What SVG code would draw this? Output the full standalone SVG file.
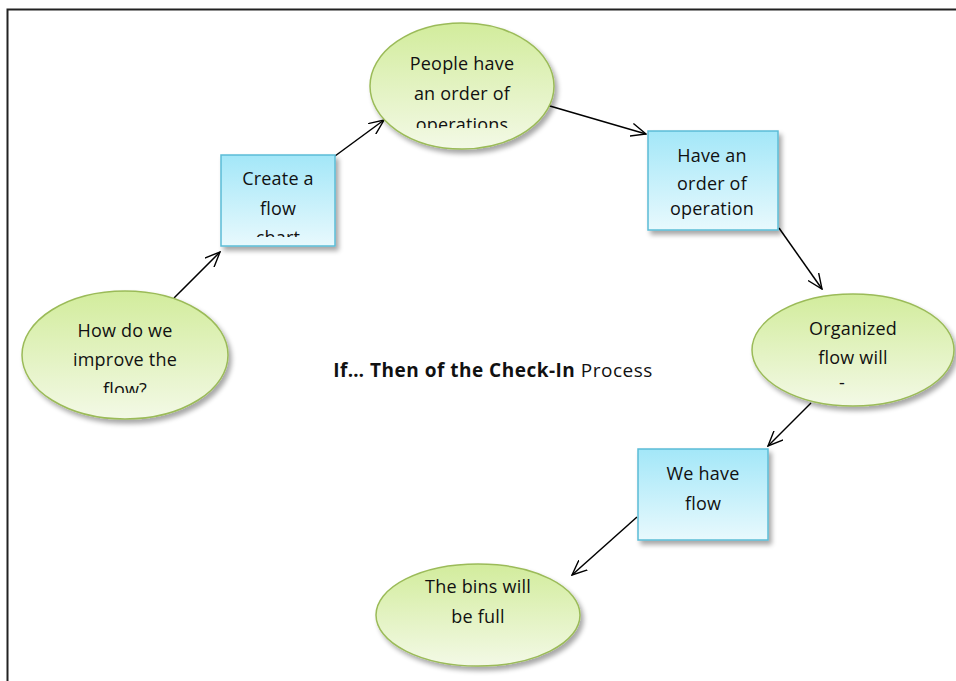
<svg xmlns="http://www.w3.org/2000/svg" width="956" height="681" viewBox="0 0 956 681">
  <style>
    .lbl { font-family: "Open Sans", "Liberation Sans", sans-serif; font-size: 18px; letter-spacing: 0.2px; fill: #111; text-anchor: middle; }
    .oval { fill: url(#gGreen); stroke: #9bbb59; stroke-width: 1.5; }
    .box { fill: url(#gBlue); stroke: #5bbcd6; stroke-width: 1.5; }
    .conn { stroke: #000; stroke-width: 1.5; fill: none; marker-end: url(#arrow); }
    .title { font-family: "Open Sans", "Liberation Sans", sans-serif; font-size: 19px; letter-spacing: 0.5px; fill: #111; }
  </style>
  <defs>
    <linearGradient id="gGreen" x1="0" y1="0" x2="0" y2="1">
      <stop offset="0" stop-color="#d2ec9c"/>
      <stop offset="1" stop-color="#f3f9e6"/>
    </linearGradient>
    <linearGradient id="gBlue" x1="0" y1="0" x2="0" y2="1">
      <stop offset="0" stop-color="#a3e7f8"/>
      <stop offset="1" stop-color="#e8f9fd"/>
    </linearGradient>
    <filter id="shadow" x="-20%" y="-20%" width="150%" height="150%">
      <feGaussianBlur in="SourceAlpha" stdDeviation="2.5"/>
      <feOffset dx="3" dy="4" result="b"/>
      <feComponentTransfer><feFuncA type="linear" slope="0.35"/></feComponentTransfer>
      <feMerge><feMergeNode/><feMergeNode in="SourceGraphic"/></feMerge>
    </filter>
    <marker id="arrow" viewBox="0 0 16 14" refX="15" refY="7" markerWidth="16" markerHeight="14" markerUnits="userSpaceOnUse" orient="auto">
      <path d="M0,0.5 L15,7 L0,13.5" fill="none" stroke="#000" stroke-width="1.4"/>
    </marker>
    <clipPath id="c1"><rect x="40" y="300" width="170" height="93"/></clipPath>
    <clipPath id="c2"><rect x="222" y="156" width="112" height="81"/></clipPath>
    <clipPath id="c3"><rect x="380" y="30" width="170" height="98"/></clipPath>
    <clipPath id="c4"><rect x="770" y="300" width="170" height="87"/></clipPath>
  </defs>

  <!-- page frame -->
  <path d="M7.5,681 L7.5,9.5 L956,9.5" fill="none" stroke="#222" stroke-width="2"/>

  <!-- connectors -->
  <g id="connectors">
    <line class="conn" x1="174" y1="298" x2="220" y2="252"/>
    <line class="conn" x1="335" y1="156" x2="384" y2="120"/>
    <line class="conn" x1="519" y1="97" x2="646" y2="134"/>
    <line class="conn" x1="779" y1="228" x2="822" y2="289"/>
    <line class="conn" x1="811" y1="403" x2="768" y2="446"/>
    <line class="conn" x1="637" y1="517" x2="572" y2="575"/>
  </g>

  <g id="n-improve">
    <ellipse class="oval" cx="125" cy="355" rx="103" ry="64" filter="url(#shadow)"/>
    <g clip-path="url(#c1)">
      <text class="lbl" x="125" y="337">How do we</text>
      <text class="lbl" x="125" y="366">improve the</text>
      <text class="lbl" x="125" y="396">flow?</text>
    </g>
  </g>

  <g id="n-flowchart">
    <rect class="box" x="221" y="155" width="114" height="91" filter="url(#shadow)"/>
    <g clip-path="url(#c2)">
      <text class="lbl" x="278" y="185">Create a</text>
      <text class="lbl" x="278" y="215">flow</text>
      <text class="lbl" x="278" y="244">chart</text>
    </g>
  </g>

  <g id="n-people">
    <ellipse class="oval" cx="462" cy="86" rx="92" ry="63" filter="url(#shadow)"/>
    <g clip-path="url(#c3)">
      <text class="lbl" x="462" y="70">People have</text>
      <text class="lbl" x="462" y="100">an order of</text>
      <text class="lbl" x="462" y="131">operations</text>
    </g>
  </g>

  <g id="n-order">
    <rect class="box" x="648" y="131" width="130" height="99" filter="url(#shadow)"/>
    <text class="lbl" x="712" y="162">Have an</text>
    <text class="lbl" x="712" y="190">order of</text>
    <text class="lbl" x="712" y="215">operation</text>
  </g>

  <g id="n-organized">
    <ellipse class="oval" cx="853" cy="350" rx="101" ry="56" filter="url(#shadow)"/>
    <g clip-path="url(#c4)">
      <text class="lbl" x="853" y="335">Organized</text>
      <text class="lbl" x="853" y="364">flow will</text>
      <text class="lbl" x="842" y="389">-</text>
    </g>
  </g>

  <g id="n-haveflow">
    <rect class="box" x="638" y="449" width="130" height="91" filter="url(#shadow)"/>
    <text class="lbl" x="703" y="480">We have</text>
    <text class="lbl" x="703" y="510">flow</text>
  </g>

  <g id="n-bins">
    <ellipse class="oval" cx="478" cy="615" rx="102" ry="51" filter="url(#shadow)"/>
    <text class="lbl" x="478" y="593">The bins will</text>
    <text class="lbl" x="478" y="623">be full</text>
  </g>

  <text class="title" x="493" y="377" text-anchor="middle"><tspan font-weight="bold">If… Then of the Check-In</tspan> Process</text>
</svg>
